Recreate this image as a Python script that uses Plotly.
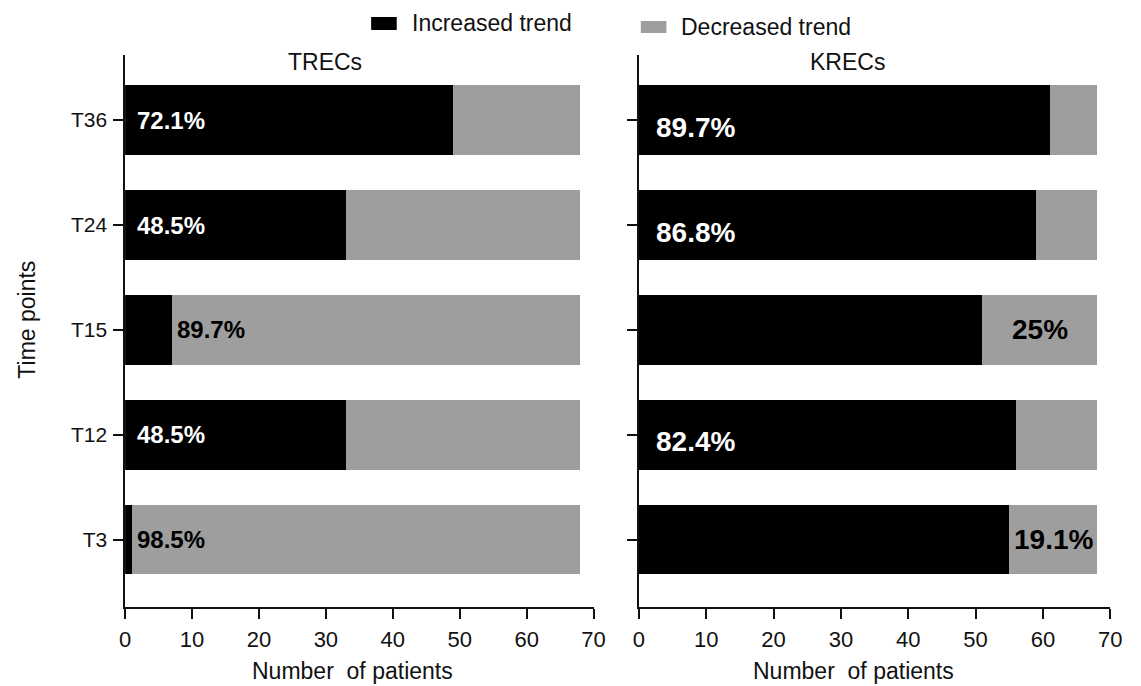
import plotly.graph_objects as go

# Patients followed at each time point
TOTAL_PATIENTS = 68
time_points = ["T3", "T12", "T15", "T24", "T36"]

# Number of patients with an increased trend (rest show a decreased trend)
trecs_increased = [1, 33, 7, 33, 49]
krecs_increased = [55, 56, 51, 59, 61]

# Which trend the printed percentage refers to at each time point
trecs_label_trend = ["decreased", "increased", "decreased", "increased", "increased"]
krecs_label_trend = ["decreased", "increased", "decreased", "increased", "increased"]

x_ticks = [0, 10, 20, 30, 40, 50, 60, 70]
series_names = ["Increased trend", "Decreased trend"]

BLACK = "#000000"
GREY = "#9e9e9e"
TEXT = "#111111"
FONT = "Liberation Sans, Arial, sans-serif"

W, H = 1141, 686


def px_x(p):
    return p / W


def px_y(p):
    return 1 - p / H


def pct_text(count):
    p = round(count / TOTAL_PATIENTS * 100, 1)
    s = f"{p:.1f}"
    if s.endswith(".0"):
        s = s[:-2]
    return s + "%"


fig = go.Figure()

panels = [
    ("x", "y", trecs_increased, trecs_label_trend),
    ("x2", "y2", krecs_increased, krecs_label_trend),
]

for xa, ya, inc, _ in panels:
    dec = [TOTAL_PATIENTS - v for v in inc]
    fig.add_trace(go.Bar(
        y=time_points, x=inc, orientation="h", name=series_names[0],
        marker=dict(color=BLACK, line=dict(width=0)),
        xaxis=xa, yaxis=ya, showlegend=False, hoverinfo="x+y",
    ))
    fig.add_trace(go.Bar(
        y=time_points, x=dec, orientation="h", name=series_names[1],
        marker=dict(color=GREY, line=dict(width=0)),
        xaxis=xa, yaxis=ya, showlegend=False, hoverinfo="x+y",
    ))

# Percentage annotations on the bars
annotations = []
for panel_idx, (xa, ya, inc, trend) in enumerate(panels):
    size = 24 if panel_idx == 0 else 28
    for tp, v, t in zip(time_points, inc, trend):
        if t == "increased":
            annotations.append(dict(
                x=1.5 if panel_idx == 0 else 2.3, y=tp, xref=xa, yref=ya,
                text=pct_text(v), showarrow=False,
                xanchor="left", yanchor="middle",
                yshift=(-7 if panel_idx == 1 else 0),
                font=dict(family=FONT, size=size, color="white", weight="bold"),
            ))
        else:
            d = TOTAL_PATIENTS - v
            if panel_idx == 0:
                annotations.append(dict(
                    x=v + 0.5, y=tp, xref=xa, yref=ya, text=pct_text(d), showarrow=False,
                    xanchor="left", yanchor="middle",
                    font=dict(family=FONT, size=size, color=BLACK, weight="bold"),
                ))
            else:
                annotations.append(dict(
                    x=v + d / 2, y=tp, xref=xa, yref=ya, text=pct_text(d), showarrow=False,
                    xanchor="center", yanchor="middle",
                    font=dict(family=FONT, size=size, color=BLACK, weight="bold"),
                ))

title_font = dict(family=FONT, size=23, color=TEXT)
annotations += [
    # panel titles
    dict(x=29.8, y=px_y(62), xref="x", yref="paper", text="TRECs", showarrow=False,
         xanchor="center", yanchor="middle", font=title_font),
    dict(x=31.0, y=px_y(62), xref="x2", yref="paper", text="KRECs", showarrow=False,
         xanchor="center", yanchor="middle", font=title_font),
    # x-axis titles
    dict(x=34.0, y=px_y(671), xref="x", yref="paper", text="Number  of patients", showarrow=False,
         xanchor="center", yanchor="middle", font=title_font),
    dict(x=31.8, y=px_y(671), xref="x2", yref="paper", text="Number  of patients", showarrow=False,
         xanchor="center", yanchor="middle", font=title_font),
    # y-axis title
    dict(x=px_x(21), y=px_y(320), xref="paper", yref="paper", text="Time points", showarrow=False,
         textangle=-90, xanchor="center", yanchor="middle", font=title_font),
    # legend labels
    dict(x=px_x(410), y=px_y(23), xref="paper", yref="paper", text=series_names[0],
         showarrow=False, xanchor="left", yanchor="middle", font=title_font),
    dict(x=px_x(684), y=px_y(27), xref="paper", yref="paper", text=series_names[1],
         showarrow=False, xanchor="left", yanchor="middle", font=title_font),
]

# legend swatches
shapes = [
    dict(type="rect", xref="paper", yref="paper",
         x0=px_x(371), x1=px_x(397), y0=px_y(30), y1=px_y(17),
         fillcolor=BLACK, line=dict(width=0)),
    dict(type="rect", xref="paper", yref="paper",
         x0=px_x(645), x1=px_x(671), y0=px_y(33), y1=px_y(21),
         fillcolor=GREY, line=dict(width=0)),
]

axis_common = dict(
    showline=True, linecolor=TEXT, linewidth=1.5, showgrid=False, zeroline=False,
    ticks="outside", ticklen=10, tickwidth=1.5, tickcolor=TEXT,
)

xdom1 = [px_x(121), px_x(597)]
xdom2 = [px_x(643), px_x(1122)]
ydom = [px_y(607), px_y(55)]

fig.update_layout(
    width=W, height=H,
    margin=dict(l=0, r=0, t=0, b=0),
    paper_bgcolor="white", plot_bgcolor="white",
    barmode="stack", bargap=0.34,
    font=dict(family=FONT, size=20, color=TEXT),
    xaxis=dict(domain=xdom1, range=[0, 70], tickvals=x_ticks, anchor="y",
               tickfont=dict(size=22), ticklabelstandoff=2, **axis_common),
    xaxis2=dict(domain=xdom2, range=[0, 70], tickvals=x_ticks, anchor="y2",
                tickfont=dict(size=22), ticklabelstandoff=2, **axis_common),
    yaxis=dict(domain=ydom, type="category", categoryorder="array",
               categoryarray=time_points, range=[-0.64, 4.62], anchor="x",
               tickfont=dict(size=21), ticklabelstandoff=2, **axis_common),
    yaxis2=dict(domain=ydom, type="category", categoryorder="array",
                categoryarray=time_points, range=[-0.64, 4.62], anchor="x2",
                showticklabels=False, **axis_common),
    annotations=annotations,
    shapes=shapes,
    showlegend=False,
)

fig.write_html("out.html")
